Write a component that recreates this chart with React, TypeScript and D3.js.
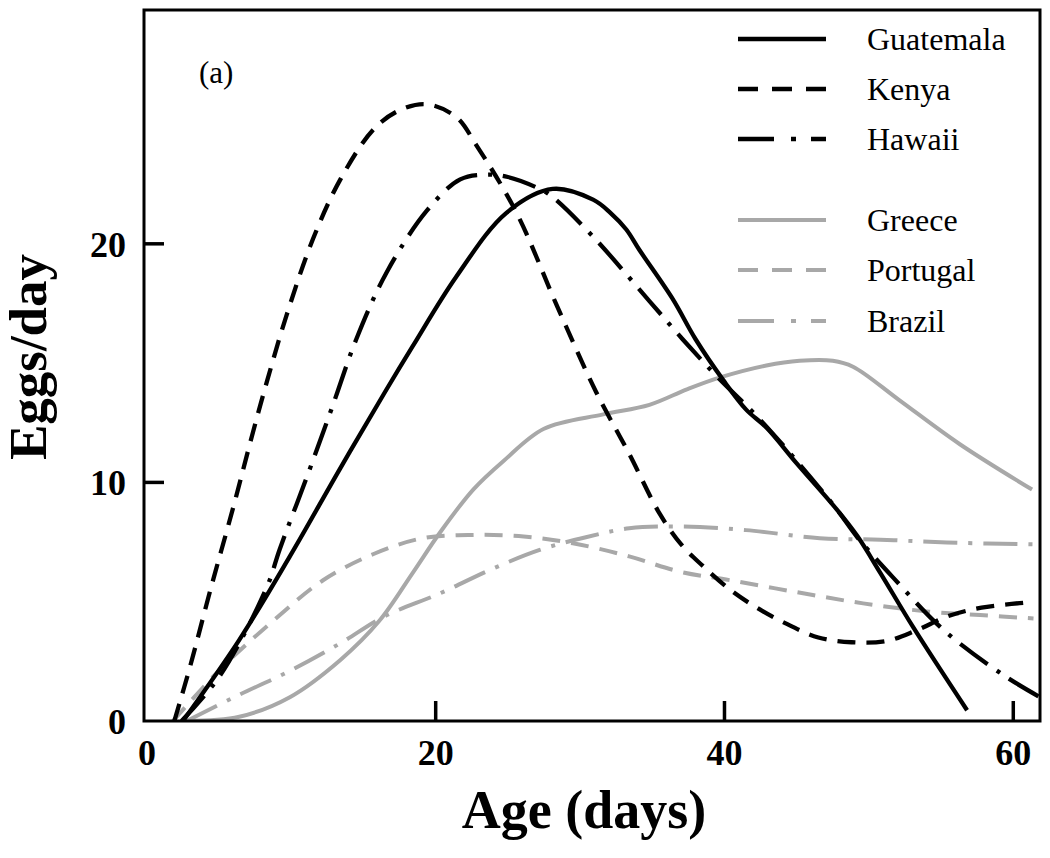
import React, { useRef, useEffect } from 'react';
import * as d3 from 'd3';

// ages (days) and eggs/day
const guatemalaAge = [2.5, 6.4, 9.9, 13.4, 16.5, 18.4, 21.4, 24.9, 28.1, 30.9, 32.1, 33.2, 34.1, 36.4, 38.0, 39.9, 41.5, 42.9, 45.0, 47.8, 49.2, 50.8, 53.1, 56.8];
const guatemalaEggs = [0, 3.4, 6.9, 10.6, 13.8, 15.7, 18.6, 21.3, 22.3, 21.85, 21.3, 20.6, 19.75, 17.7, 16.0, 14.3, 13.05, 12.3, 10.8, 8.85, 7.75, 6.2, 3.9, 0.45];

const kenyaAge = [1.9, 3.0, 4.4, 6.0, 7.3, 8.3, 9.67, 11.5, 13.4, 15.7, 17.5, 19.4, 21.45, 22.8, 25.6, 28.4, 31.1, 33.4, 35.5, 37.0, 38.5, 40.4, 42.1, 44.2, 46.5, 48.8, 51.2, 53.3, 55.5, 57.8, 60.8];
const kenyaEggs = [0, 2.3, 5.5, 9.0, 12.0, 14.2, 17.0, 20.2, 22.7, 24.8, 25.6, 25.85, 25.3, 24.15, 21.3, 17.4, 13.8, 11.2, 8.7, 7.4, 6.5, 5.5, 4.8, 4.1, 3.5, 3.3, 3.35, 3.8, 4.4, 4.75, 4.96];

const hawaiiAge = [2.4, 5.06, 8.3, 9.2, 11.06, 12.8, 14.5, 16.6, 19.4, 21.7, 23.5, 25.0, 27.2, 28.1, 30.9, 34.8, 37.4, 39.7, 42.2, 45.0, 47.8, 49.2, 51.7, 55.2, 59.3, 61.85];
const hawaiiEggs = [0, 1.9, 5.6, 7.2, 10.2, 13.1, 16.0, 18.8, 21.4, 22.7, 22.9, 22.8, 22.3, 21.96, 20.3, 17.6, 15.8, 14.3, 12.8, 10.9, 8.85, 7.7, 6.0, 3.8, 1.93, 1.0];

const greeceAge = [2.75, 6.4, 9.9, 13.4, 16.1, 18.4, 20.3, 22.6, 24.7, 27.5, 31.6, 34.8, 37.4, 39.7, 42.9, 45.2, 47.5, 48.9, 52.1, 56.3, 61.3];
const greeceEggs = [0, 0.18, 1.0, 2.56, 4.2, 6.2, 7.9, 9.7, 10.9, 12.25, 12.85, 13.25, 13.9, 14.4, 14.9, 15.1, 15.1, 14.85, 13.45, 11.6, 9.7];

const portugalAge = [1.8, 5.3, 8.75, 12.2, 15.7, 19.1, 22.6, 26.1, 29.5, 33.4, 36.9, 40.4, 45.0, 49.6, 54.2, 57.7, 61.4];
const portugalEggs = [0, 2.3, 4.2, 5.9, 7.0, 7.66, 7.8, 7.73, 7.45, 6.9, 6.26, 5.9, 5.4, 4.93, 4.58, 4.44, 4.3];

const brazilAge = [2.75, 6.4, 9.9, 13.4, 16.4, 20.3, 23.75, 27.2, 30.4, 33.4, 36.9, 41.5, 46.6, 50.8, 55.4, 61.85];
const brazilEggs = [0, 1.1, 2.1, 3.26, 4.37, 5.35, 6.33, 7.17, 7.7, 8.08, 8.15, 8.0, 7.66, 7.6, 7.48, 7.4];

const xTicks = [0, 20, 40, 60];
const yTicks = [0, 10, 20];

const BLACK = '#000';
const GRAY = '#a8a8a8';
const DASH = '18,11';
const DASHDOT = '34,11,4,11';
const LEGEND_DASH = '20,14';
const LEGEND_DASHDOT = '36,17,5,15';

const series = [
  { name: 'Guatemala', age: guatemalaAge, eggs: guatemalaEggs, color: BLACK, dash: null, legendDash: null, legendY: 39 },
  { name: 'Kenya', age: kenyaAge, eggs: kenyaEggs, color: BLACK, dash: DASH, legendDash: LEGEND_DASH, legendY: 89 },
  { name: 'Hawaii', age: hawaiiAge, eggs: hawaiiEggs, color: BLACK, dash: DASHDOT, legendDash: LEGEND_DASHDOT, legendY: 139 },
  { name: 'Greece', age: greeceAge, eggs: greeceEggs, color: GRAY, dash: null, legendDash: null, legendY: 220 },
  { name: 'Portugal', age: portugalAge, eggs: portugalEggs, color: GRAY, dash: DASH, legendDash: LEGEND_DASH, legendY: 270 },
  { name: 'Brazil', age: brazilAge, eggs: brazilEggs, color: GRAY, dash: DASHDOT, legendDash: LEGEND_DASHDOT, legendY: 321 },
];

const FONT = '"Liberation Serif", "Times New Roman", serif';

export default function App() {
  const svgRef = useRef<SVGSVGElement>(null);
  const width = 1050;
  const height = 858;

  useEffect(() => {
    if (!svgRef.current) return;
    const svg = d3.select(svgRef.current);
    svg.selectAll('*').remove();

    const left = 144, right = 1040, top = 10, bottom = 721;

    const x = d3.scaleLinear().domain([-0.2, 61.85]).range([left, right]);
    const y = d3.scaleLinear().domain([0, 29.8]).range([bottom, top]);

    svg.append('rect').attr('width', width).attr('height', height).attr('fill', '#fff');

    svg.append('defs')
      .append('clipPath')
      .attr('id', 'plot-clip')
      .append('rect')
      .attr('x', left)
      .attr('y', top)
      .attr('width', right - left)
      .attr('height', bottom - top);

    const line = d3.line<[number, number]>()
      .x(d => x(d[0]))
      .y(d => y(d[1]))
      .curve(d3.curveCatmullRom.alpha(0.5));

    // curves (gray first so black sits on top)
    const g = svg.append('g').attr('clip-path', 'url(#plot-clip)');
    [...series].reverse().forEach(s => {
      const pts = s.age.map((a, i) => [a, s.eggs[i]] as [number, number]);
      g.append('path')
        .datum(pts)
        .attr('d', line)
        .attr('fill', 'none')
        .attr('stroke', s.color)
        .attr('stroke-width', s.color === BLACK ? 4.3 : 4)
        .attr('stroke-dasharray', s.dash)
        .attr('stroke-linejoin', 'round');
    });

    // frame
    svg.append('rect')
      .attr('x', left)
      .attr('y', top)
      .attr('width', right - left)
      .attr('height', bottom - top)
      .attr('fill', 'none')
      .attr('stroke', '#000')
      .attr('stroke-width', 3);

    // inward ticks
    xTicks.filter(t => t > 0).forEach(t => {
      svg.append('line')
        .attr('x1', x(t)).attr('x2', x(t))
        .attr('y1', bottom).attr('y2', bottom - 20)
        .attr('stroke', '#000').attr('stroke-width', 3.5);
    });
    yTicks.filter(t => t > 0).forEach(t => {
      svg.append('line')
        .attr('x1', left).attr('x2', left + 20)
        .attr('y1', y(t)).attr('y2', y(t))
        .attr('stroke', '#000').attr('stroke-width', 3.5);
    });

    // tick labels
    svg.selectAll('.x-label')
      .data(xTicks)
      .enter()
      .append('text')
      .attr('x', d => x(d))
      .attr('y', 765)
      .attr('text-anchor', 'middle')
      .attr('font-family', FONT)
      .attr('font-weight', 'bold')
      .attr('font-size', 36)
      .text(d => d);

    svg.selectAll('.y-label')
      .data(yTicks)
      .enter()
      .append('text')
      .attr('x', 126)
      .attr('y', d => y(d) + 13)
      .attr('text-anchor', 'end')
      .attr('font-family', FONT)
      .attr('font-weight', 'bold')
      .attr('font-size', 36)
      .text(d => d);

    // axis titles
    svg.append('text')
      .attr('x', 584)
      .attr('y', 828)
      .attr('text-anchor', 'middle')
      .attr('font-family', FONT)
      .attr('font-weight', 'bold')
      .attr('font-size', 54)
      .text('Age (days)');

    svg.append('text')
      .attr('transform', 'translate(46, 357) rotate(-90)')
      .attr('text-anchor', 'middle')
      .attr('font-family', FONT)
      .attr('font-weight', 'bold')
      .attr('font-size', 53)
      .text('Eggs/day');

    // panel letter
    svg.append('text')
      .attr('x', 199)
      .attr('y', 83)
      .attr('font-family', FONT)
      .attr('font-size', 31)
      .text('(a)');

    // legend
    series.forEach(s => {
      svg.append('line')
        .attr('x1', 738).attr('x2', 826)
        .attr('y1', s.legendY).attr('y2', s.legendY)
        .attr('stroke', s.color)
        .attr('stroke-width', s.color === BLACK ? 4.5 : 4)
        .attr('stroke-dasharray', s.legendDash);
      svg.append('text')
        .attr('x', 867)
        .attr('y', s.legendY + 11)
        .attr('font-family', FONT)
        .attr('font-size', 32)
        .text(s.name);
    });
  }, []);

  return (
    <svg
      ref={svgRef}
      width={width}
      height={height}
      style={{ position: 'absolute', left: 0, top: 0 }}
    />
  );
}
